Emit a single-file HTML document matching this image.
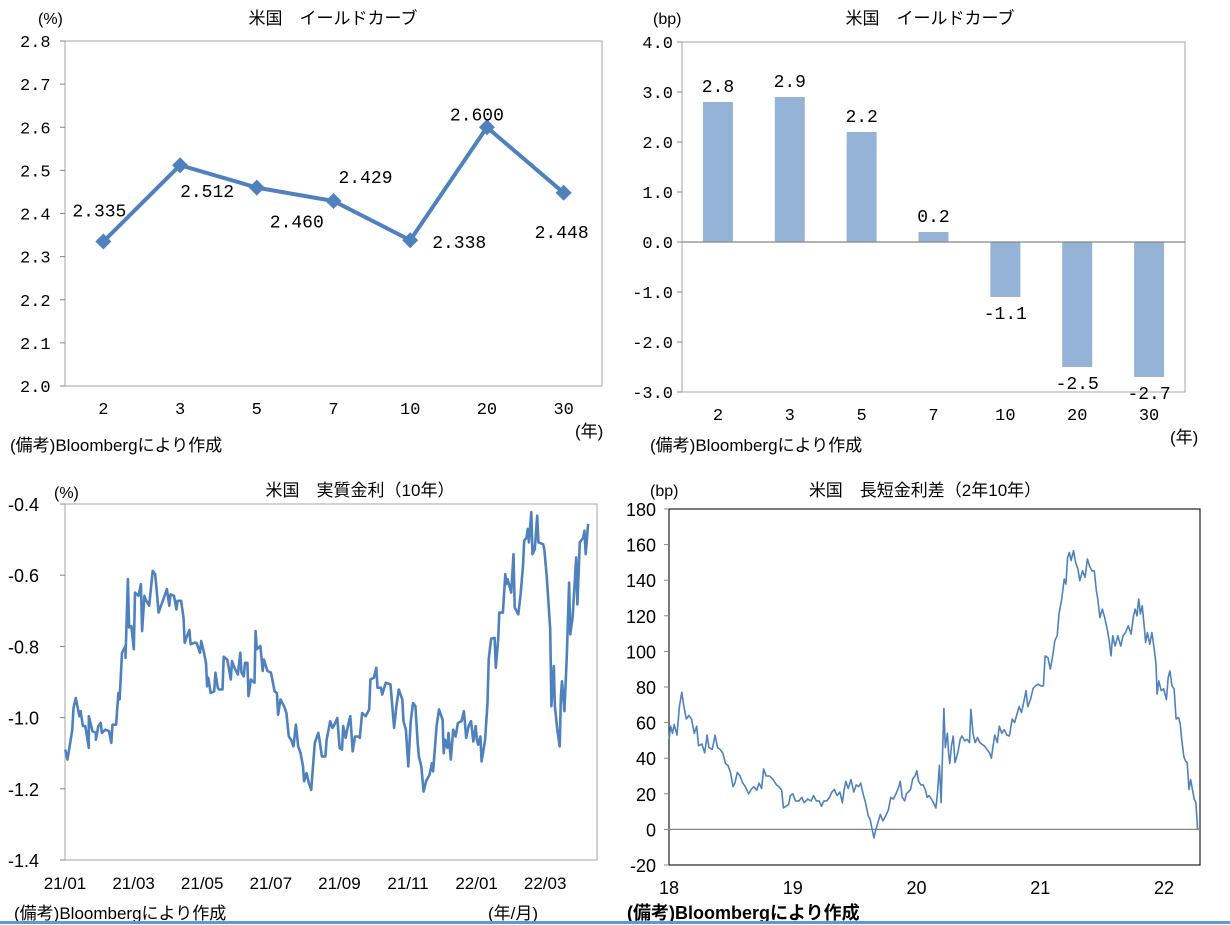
<!DOCTYPE html>
<html><head><meta charset="utf-8"><style>
body{margin:0;background:#fff;}
svg{display:block;font-family:"Liberation Sans","Noto Sans CJK JP",sans-serif;}
.m{font-family:"Liberation Mono","Noto Sans CJK JP",monospace;}
</style></head><body>
<svg id="root" width="1230" height="925" viewBox="0 0 1230 925">
<g id="c1"></g>
<g id="c2"></g>
<g id="c3"></g>
<g id="c4"></g>
<rect x="0" y="921" width="1230" height="3" fill="#5b9bd5"/>
</svg>
<script>
// ---- chart 1 data
const c1Cats = ["2","3","5","7","10","20","30"];
const c1Vals = [2.335,2.512,2.460,2.429,2.338,2.600,2.448];
const c1Ticks = [2.0,2.1,2.2,2.3,2.4,2.5,2.6,2.7,2.8];
const c1LabelOffsets = [[-4,-31],[27,26],[40,34],[32,-24],[49,2],[-10,-13],[-2,39]];
// ---- chart 2 data
const c2Cats = ["2","3","5","7","10","20","30"];
const c2Vals = [2.8,2.9,2.2,0.2,-1.1,-2.5,-2.7];
const c2Ticks = [4,3,2,1,0,-1,-2,-3];
// ---- chart 3 data (x = approx trading days from 2021/01)
const c3Labels = ["21/01","21/03","21/05","21/07","21/09","21/11","22/01","22/03"];
const c3Ticks = [-0.4,-0.6,-0.8,-1.0,-1.2,-1.4];
const c3Days = [1,3,7,8,10,13,14,16,18,21,21,24,27,27,29,31,32,35,38,40,41,44,46,47,49,52,52,54,55,57,59,60,63,65,66,68,69,72,75,77,78,80,82,85,87,89,90,93,95,96,99,101,102,104,106,107,110,112,113,115,116,118,120,121,122,124,127,128,130,131,134,135,138,141,142,144,147,149,150,152,153,155,156,158,161,162,163,166,168,169,172,175,178,180,181,183,186,187,188,190,192,194,196,198,200,202,203,205,207,209,212,215,216,218,221,222,225,227,228,231,233,235,236,238,240,242,244,246,249,250,252,255,258,259,262,264,265,268,269,272,276,279,281,283,286,287,289,291,293,295,297,299,300,302,304,306,309,311,312,315,317,320,321,322,324,325,327,329,331,333,336,338,340,342,344,346,348,349,350,352,353,356,358,359,361,364,365,367,368,371,373,374,375,378,380,381,384,386,388,389,391,392,393,395,396,398,400,401,405,406,408,411,412,414,415,417,419,420,421,423,425,427,428,430,433,434,436,439,440,441,443];
const c3Vals = [-1.09,-1.118,-1.034,-0.973,-0.945,-0.996,-0.982,-1.024,-1.024,-1.085,-0.996,-1.038,-1.043,-1.062,-1.024,-1.015,-1.043,-1.034,-1.038,-1.071,-1.02,-1.02,-0.931,-0.949,-0.818,-0.799,-0.832,-0.611,-0.747,-0.743,-0.808,-0.649,-0.658,-0.625,-0.757,-0.658,-0.668,-0.686,-0.588,-0.597,-0.63,-0.705,-0.686,-0.658,-0.639,-0.686,-0.654,-0.658,-0.696,-0.672,-0.672,-0.719,-0.79,-0.771,-0.754,-0.794,-0.79,-0.79,-0.799,-0.818,-0.785,-0.813,-0.846,-0.912,-0.888,-0.931,-0.926,-0.874,-0.916,-0.921,-0.921,-0.829,-0.837,-0.893,-0.841,-0.86,-0.879,-0.818,-0.874,-0.884,-0.846,-0.846,-0.94,-0.893,-0.902,-0.757,-0.808,-0.799,-0.869,-0.837,-0.869,-0.874,-0.926,-0.931,-0.992,-0.949,-0.968,-0.977,-0.987,-1.053,-1.062,-1.081,-1.02,-1.081,-1.10,-1.137,-1.179,-1.156,-1.184,-1.203,-1.071,-1.043,-1.062,-1.109,-1.109,-1.062,-1.01,-1.029,-1.024,-1.001,-1.085,-1.09,-1.024,-1.057,-1.024,-0.996,-1.095,-1.053,-1.053,-1.057,-0.987,-0.996,-0.977,-0.893,-0.888,-0.86,-0.916,-0.916,-0.935,-0.902,-0.907,-1.029,-0.968,-0.921,-0.949,-1.01,-1.034,-1.137,-1.015,-0.959,-0.968,-1.071,-1.109,-1.137,-1.208,-1.179,-1.161,-1.128,-1.151,-1.024,-0.977,-1.006,-1.10,-1.062,-1.085,-1.043,-1.118,-1.034,-1.053,-1.015,-1.01,-0.982,-1.057,-1.024,-1.01,-1.067,-1.024,-1.062,-1.076,-1.053,-1.123,-1.062,-0.959,-0.837,-0.778,-0.776,-0.86,-0.78,-0.705,-0.705,-0.597,-0.625,-0.611,-0.649,-0.541,-0.691,-0.71,-0.654,-0.574,-0.503,-0.494,-0.47,-0.508,-0.423,-0.541,-0.527,-0.433,-0.508,-0.513,-0.527,-0.602,-0.752,-0.968,-0.855,-0.968,-1.034,-1.081,-0.94,-0.898,-0.982,-0.827,-0.621,-0.766,-0.715,-0.55,-0.682,-0.508,-0.494,-0.475,-0.541,-0.456];
// ---- chart 4 data (x = approx days from 2018/01, 357 per year)
const c4Labels = ["18","19","20","21","22"];
const c4Ticks = [180,160,140,120,100,80,60,40,20,0,-20];
const c4Days = [0,5,10,15,23,30,37,43,50,57,65,73,80,85,95,103,110,115,125,133,140,147,155,163,170,177,185,190,197,205,213,220,230,237,245,253,260,267,273,280,290,300,310,317,325,330,337,345,350,357,365,375,383,390,400,410,417,425,433,440,447,455,463,470,477,485,493,500,505,510,517,525,533,540,547,553,560,567,575,580,585,591,597,603,610,617,625,633,640,647,655,663,667,673,680,685,690,697,703,710,715,720,727,733,740,745,750,757,763,770,775,780,785,788,793,797,803,807,810,815,820,825,833,840,845,853,860,867,871,877,883,890,897,903,910,917,925,930,935,940,947,953,960,967,975,982,990,997,1005,1010,1017,1025,1030,1035,1043,1050,1057,1065,1073,1080,1085,1093,1100,1107,1113,1120,1125,1133,1140,1145,1150,1155,1160,1167,1173,1180,1185,1193,1200,1207,1213,1220,1227,1233,1237,1243,1250,1257,1265,1270,1275,1280,1287,1295,1303,1310,1317,1325,1333,1340,1345,1350,1355,1360,1365,1370,1375,1380,1387,1393,1400,1405,1408,1413,1420,1427,1435,1440,1445,1451,1457,1463,1470,1475,1479,1485,1490,1495,1500,1505,1510,1515,1520,1525];
const c4Vals = [50.6,58,54,59,53,69,77,69,62,64,62,54,58,47,48,43,53,46,45,53,46,45,43,37,36,32,24,26,32,30,26,24,20,22.5,24,22,26,23,34,30,30,28,25,24,22,12,13,14,19,20,16,16,18,15,17,16,19,16,16,13,16,16,18,21,22.5,19,21,15,22,27,23,28,21,25,24,26,20,15,7.5,5.6,1,-4.7,0,4,8.4,4.7,7.5,11,18,17,20,24,27,18,16,20,21,22.5,28.5,30,33,27,25,25,22,18,19,17,15,12,21,36,15,36,68,46,54,42,37,47,52.5,37.5,43,50.6,52.5,49.7,50.6,48.75,67.5,54,48.75,51.6,48.75,47.8,46.9,45,43,40,47,53,48.75,58,54,56,53,52.5,62,60,65.6,69,65.6,73,78,69,73,79,80.6,81.6,80.6,80.6,97.5,96.6,90,97.5,106,108.75,121,129.4,140.6,137.8,152.8,155.6,151,156.6,150,146,139.7,145.3,141.6,151.9,148,145.3,145.3,134,129.4,119,123.75,119,111.6,106,97.5,108.75,103,108.75,103,108.75,110.6,114.4,109.7,120,123.75,120,129.4,121,125.6,116,105,110.6,104,110.6,101,92.8,76,83.4,78,79,73,85.3,89,80.6,79,62,62.8,59,50.6,41,38.4,37.5,22.5,28,22.5,17,15,0];

const NS="http://www.w3.org/2000/svg";
function mk(parent,tag,attrs,text){const e=document.createElementNS(NS,tag);for(const k in attrs)e.setAttribute(k,attrs[k]);if(text!==undefined)e.textContent=text;parent.appendChild(e);return e;}
const BLUE="#4f81bd";

// ===== Chart 1
(function(){
  const g=document.getElementById('c1');
  const L=65,R=602,T=41,B=386,ymin=2.0,ymax=2.8;
  const y=v=>B-(v-ymin)/(ymax-ymin)*(B-T);
  const step=(R-L)/c1Cats.length;const x=i=>L+step*(i+0.5);
  let t;
  t=mk(g,'text',{x:333,y:24,'font-size':17,'text-anchor':'middle'},'米国　イールドカーブ');
  
  t=mk(g,'text',{x:38,y:24,'font-size':16},'(%)');
  
  const fr=mk(g,'rect',{x:L,y:T,width:R-L,height:B-T,fill:'none',stroke:'#a6a6a6','stroke-width':1});
  
  c1Ticks.forEach(v=>{
    const ln=mk(g,'line',{x1:L-5,x2:L,y1:y(v),y2:y(v),stroke:'#868686'});
    
    const tx=mk(g,'text',{x:20,y:y(v)+6,'font-size':17,class:'m'},v.toFixed(1));
    
  });
  c1Cats.forEach((c,i)=>{
    const tx=mk(g,'text',{x:x(i),y:414,'font-size':17,'text-anchor':'middle',class:'m'},c);
    
  });
  t=mk(g,'text',{x:575,y:437,'font-size':17},'(年)');
  
  t=mk(g,'text',{x:10,y:451,'font-size':17},'(備考)Bloombergにより作成');
  
  const pl=mk(g,'polyline',{points:c1Vals.map((v,i)=>x(i)+','+y(v)).join(' '),fill:'none',stroke:BLUE,'stroke-width':4,'stroke-linejoin':'round'});
  
  c1Vals.forEach((v,i)=>{
    const cx=x(i),cy=y(v);
    const d=mk(g,'polygon',{points:`${cx},${cy-8} ${cx+8},${cy} ${cx},${cy+8} ${cx-8},${cy}`,fill:BLUE});
    
    const o=c1LabelOffsets[i];
    const tx=mk(g,'text',{x:cx+o[0],y:cy+o[1]+6,'font-size':18,'text-anchor':'middle',class:'m'},v.toFixed(3));
    
  });
})();

// ===== Chart 2
(function(){
  const g=document.getElementById('c2');
  const L=682,R=1185,T=42,B=392,ymin=-3,ymax=4;
  const y=v=>B-(v-ymin)/(ymax-ymin)*(B-T);
  const step=(R-L)/c2Cats.length;const x=i=>L+step*(i+0.5);
  let t;
  t=mk(g,'text',{x:930,y:24,'font-size':17,'text-anchor':'middle'},'米国　イールドカーブ');
  
  t=mk(g,'text',{x:653,y:24,'font-size':16},'(bp)');
  
  const fr=mk(g,'rect',{x:L,y:T,width:R-L,height:B-T,fill:'none',stroke:'#a6a6a6'});
  
  c2Ticks.forEach(v=>{
    const ln=mk(g,'line',{x1:L-5,x2:L,y1:y(v),y2:y(v),stroke:'#868686'});
    
    const tx=mk(g,'text',{x:673,y:y(v)+6,'font-size':17,'text-anchor':'end',class:'m'},v.toFixed(1));
    
  });
  c2Vals.forEach((v,i)=>{
    const y0=y(0),yv=y(v);
    const b=mk(g,'rect',{x:x(i)-15,y:Math.min(y0,yv),width:30,height:Math.abs(yv-y0),fill:'#95b3d7'});
    
    const ly=v>=0?yv-10:yv+22;
    const tx=mk(g,'text',{x:x(i),y:ly,'font-size':18,'text-anchor':'middle',class:'m'},v.toFixed(1));
    
  });
  const z=mk(g,'line',{x1:L,x2:R,y1:y(0),y2:y(0),stroke:'#868686','stroke-width':1.2});
  
  c2Cats.forEach((c,i)=>{
    const tx=mk(g,'text',{x:x(i),y:420,'font-size':17,'text-anchor':'middle',class:'m'},c);
    
  });
  t=mk(g,'text',{x:1170,y:443,'font-size':17},'(年)');
  
  t=mk(g,'text',{x:650,y:451,'font-size':17},'(備考)Bloombergにより作成');
  
})();

// ===== Chart 3
(function(){
  const g=document.getElementById('c3');
  const L=65,R=597,T=504,B=860,ymin=-1.4,ymax=-0.4;
  const y=v=>B-(v-ymin)/(ymax-ymin)*(B-T);
  const x=d=>64+d*1.183;
  let t;
  t=mk(g,'text',{x:360,y:496,'font-size':17,'text-anchor':'middle'},'米国　実質金利（10年）');
  
  t=mk(g,'text',{x:54,y:498,'font-size':16},'(%)');
  
  const fr=mk(g,'rect',{x:L,y:T,width:R-L,height:B-T,fill:'none',stroke:'#a6a6a6'});
  
  c3Ticks.forEach(v=>{
    const ln=mk(g,'line',{x1:L-5,x2:L,y1:y(v),y2:y(v),stroke:'#868686'});
    
    const tx=mk(g,'text',{x:8,y:y(v)+7,'font-size':18},v.toFixed(1));
    
  });
  c3Labels.forEach((s,i)=>{
    const tx=mk(g,'text',{x:65+i*68.6,y:889,'font-size':17,'text-anchor':'middle'},s);
    
  });
  const pl=mk(g,'polyline',{points:c3Vals.map((v,i)=>x(c3Days[i]).toFixed(1)+','+y(v).toFixed(1)).join(' '),fill:'none',stroke:BLUE,'stroke-width':2.6,'stroke-linejoin':'round'});
  
  t=mk(g,'text',{x:488,y:919,'font-size':17},'(年/月)');
  
  t=mk(g,'text',{x:14,y:919,'font-size':17},'(備考)Bloombergにより作成');
  
})();

// ===== Chart 4
(function(){
  const g=document.getElementById('c4');
  const L=669,R=1200,T=509,B=865,ymin=-20,ymax=180;
  const y=v=>B-(v-ymin)/(ymax-ymin)*(B-T);
  const x=d=>L+d*123.75/357;
  let t;
  t=mk(g,'text',{x:925,y:496,'font-size':17,'text-anchor':'middle'},'米国　長短金利差（2年10年）');
  
  t=mk(g,'text',{x:650,y:496,'font-size':16},'(bp)');
  
  const fr=mk(g,'rect',{x:L,y:T,width:R-L,height:B-T,fill:'none',stroke:'#222','stroke-width':1.2});
  
  c4Ticks.forEach(v=>{
    const ln=mk(g,'line',{x1:L-5,x2:L,y1:y(v),y2:y(v),stroke:'#868686'});
    
    const tx=mk(g,'text',{x:656,y:y(v)+7,'font-size':18,'text-anchor':'end'},String(v));
    
  });
  const z=mk(g,'line',{x1:L,x2:R,y1:y(0),y2:y(0),stroke:'#868686','stroke-width':1.2});
  
  c4Labels.forEach((s,i)=>{
    const tx=mk(g,'text',{x:669+i*123.75,y:894,'font-size':18,'text-anchor':'middle'},s);
    
  });
  const pl=mk(g,'polyline',{points:c4Vals.map((v,i)=>x(c4Days[i]).toFixed(1)+','+y(v).toFixed(1)).join(' '),fill:'none',stroke:BLUE,'stroke-width':1.6,'stroke-linejoin':'round'});
  
  t=mk(g,'text',{x:627,y:919,'font-size':18,'font-weight':'bold'},'(備考)Bloombergにより作成');
  
})();
</script>
</body></html>
